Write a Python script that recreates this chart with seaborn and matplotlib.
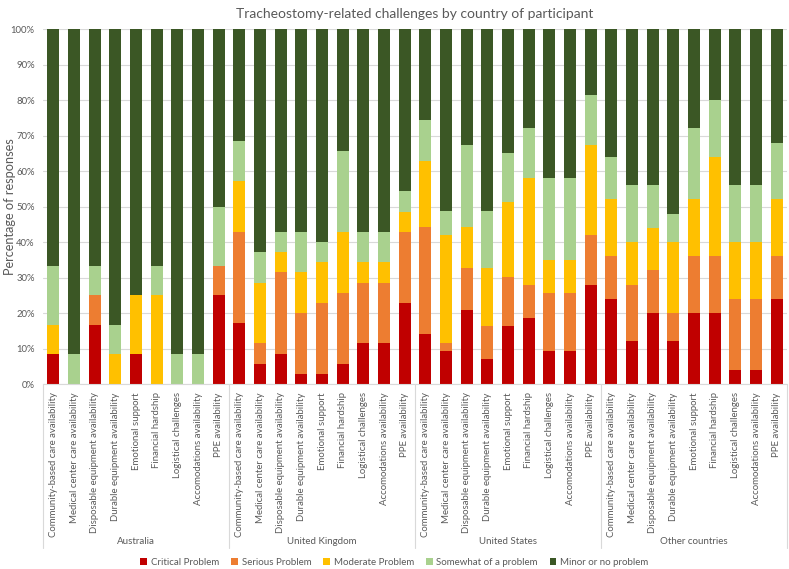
import pandas as pd
import numpy as np
import matplotlib
matplotlib.use("Agg")
import matplotlib.pyplot as plt
from matplotlib.patches import Patch
import seaborn as sns

countries = ["Australia", "United Kingdom", "United States", "Other countries"]
challenges = [
    "Community-based care availability",
    "Medical center care availability",
    "Disposable equipment availability",
    "Durable equipment availability",
    "Emotional support",
    "Financial hardship",
    "Logistical challenges",
    "Accomodations availability",
    "PPE availability",
]
levels = ["Critical Problem", "Serious Problem", "Moderate Problem",
          "Somewhat of a problem", "Minor or no problem"]

# percentages, 9 challenges per country (AU, UK, US, Other)
critical = [8.33, 0, 16.67, 0, 8.33, 0, 0, 0, 25,
            17.14, 5.71, 8.57, 2.86, 2.86, 5.71, 11.43, 11.43, 22.86,
            13.95, 9.30, 20.93, 6.98, 16.28, 18.60, 9.30, 9.30, 27.91,
            24, 12, 20, 12, 20, 20, 4, 4, 24]
serious = [0, 0, 8.33, 0, 0, 0, 0, 0, 8.33,
           25.71, 5.71, 22.86, 17.14, 20.0, 20.0, 17.14, 17.14, 20.0,
           30.23, 2.33, 11.63, 9.30, 13.95, 9.30, 16.28, 16.28, 13.95,
           12, 16, 12, 8, 16, 16, 20, 20, 12]
moderate = [8.33, 0, 0, 8.33, 16.67, 25, 0, 0, 0,
            14.29, 17.14, 5.71, 11.43, 11.43, 17.14, 5.71, 5.71, 5.71,
            18.60, 30.23, 11.63, 16.28, 20.93, 30.23, 9.30, 9.30, 25.58,
            16, 12, 12, 20, 16, 28, 16, 16, 16]
somewhat = [16.67, 8.33, 8.33, 8.33, 0, 8.33, 8.33, 8.33, 16.67,
            11.43, 8.57, 5.71, 11.43, 5.71, 22.86, 8.57, 8.57, 5.71,
            11.63, 6.98, 23.26, 16.28, 13.95, 13.95, 23.26, 23.26, 13.95,
            12, 16, 12, 8, 20, 16, 16, 16, 16]
minor = [66.67, 91.67, 66.67, 83.33, 75, 66.67, 91.67, 91.67, 50,
         31.43, 62.86, 57.14, 57.14, 60.0, 34.29, 57.14, 57.14, 45.71,
         25.58, 51.16, 32.56, 51.16, 34.88, 27.91, 41.86, 41.86, 18.60,
         36, 44, 44, 52, 28, 20, 44, 44, 32]

colors = ["#C00000", "#ED7D31", "#FFC000", "#A9D18E", "#3B5725"]
text_gray = "#595959"

bar_ids = [f"{c}|{ch}" for c in countries for ch in challenges]
df = pd.DataFrame({
    "bar": bar_ids,
    "Critical Problem": critical,
    "Serious Problem": serious,
    "Moderate Problem": moderate,
    "Somewhat of a problem": somewhat,
    "Minor or no problem": minor,
})
cum = df[levels].cumsum(axis=1)
cum["bar"] = df["bar"]

sns.set_style("white")
plt.rcParams["font.family"] = ["Lato", "DejaVu Sans"]

fig = plt.figure(figsize=(7.89, 5.69), dpi=100)
ax = fig.add_axes([0.0545, 0.3251, 0.943, 0.6239])

# draw tallest cumulative first so lower levels sit on top
for lvl, col in reversed(list(zip(levels, colors))):
    sns.barplot(data=cum, x="bar", y=lvl, order=bar_ids, color=col,
                saturation=1, width=0.57, linewidth=0, errorbar=None, ax=ax)

ax.set_xlim(-0.5, len(bar_ids) - 0.5)
ax.set_ylim(0, 100)
ax.set_yticks(np.arange(0, 101, 10))
ax.set_yticklabels([f"{v}%" for v in range(0, 101, 10)], fontsize=6.8, color=text_gray)
ax.yaxis.grid(True, color="#D9D9D9", linewidth=0.8)
ax.set_axisbelow(True)
ax.set_xticks(range(len(bar_ids)))
ax.set_xticklabels(challenges * len(countries), rotation=90, fontsize=6.9, color=text_gray)
ax.tick_params(axis="both", length=0)
ax.tick_params(axis="x", pad=6)
ax.tick_params(axis="y", pad=6)
for s in ["top", "right", "left"]:
    ax.spines[s].set_visible(False)
ax.spines["bottom"].set_color("#D9D9D9")
ax.set_xlabel("")
ax.set_ylabel("Percentage of responses", fontsize=9.2, color=text_gray)
ax.yaxis.set_label_coords(-0.036, 0.5)

trans = ax.get_xaxis_transform()
n = len(challenges)
for k in range(len(countries) + 1):
    x = k * n - 0.5
    ax.plot([x, x], [0, -0.462], transform=trans, color="#D9D9D9",
            linewidth=0.8, clip_on=False)
for k, c in enumerate(countries):
    ax.text(k * n + (n - 1) / 2, -0.445, c, transform=trans, ha="center",
            va="center", fontsize=7, color=text_gray)

ax.set_title("Tracheostomy-related challenges by country of participant",
             fontsize=10, color=text_gray, pad=8)

handles = [Patch(facecolor=c, edgecolor="none", label=l) for l, c in zip(levels, colors)]
fig.legend(handles=handles, loc="center", bbox_to_anchor=(0.5, 0.011), ncol=5,
           frameon=False, fontsize=7, handlelength=0.7, handleheight=0.7,
           handletextpad=0.4, columnspacing=1.2, labelcolor=text_gray)

plt.savefig("out.png", dpi=100)
plt.close()
